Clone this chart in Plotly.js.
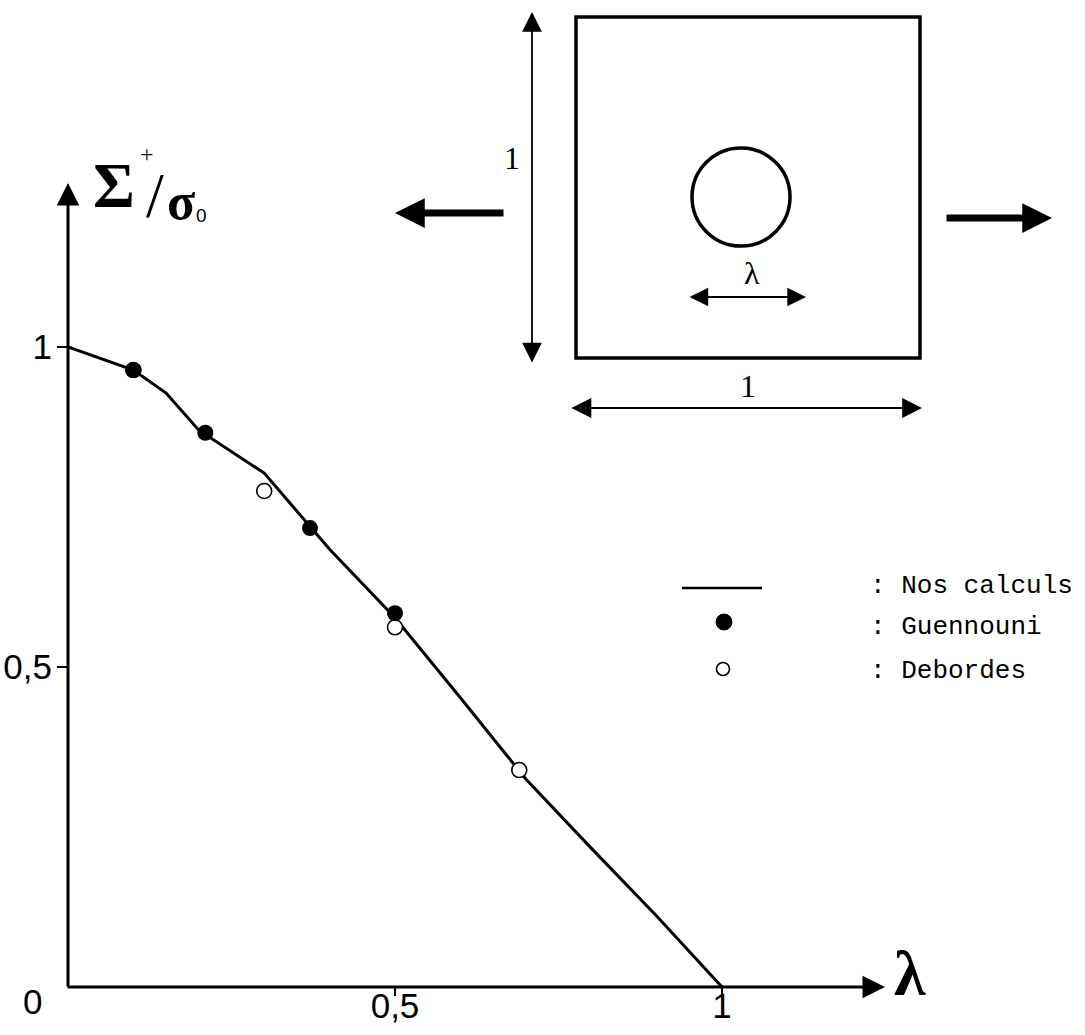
<!DOCTYPE html>
<html><head><meta charset="utf-8">
<script src="https://cdn.plot.ly/plotly-3.0.1.min.js"></script>
<style>html,body{margin:0;padding:0;background:#fff}#chart{width:1085px;height:1035px}</style>
</head><body><div id="chart"></div>
<script>
// ---- data ----
const lineLambda = [0, 0.1, 0.15, 0.2, 0.3, 0.4, 0.5, 0.6, 0.7, 0.8, 0.9, 1.0];
const lineSigma  = [1.0, 0.964, 0.928, 0.87, 0.803, 0.684, 0.577, 0.452, 0.325, 0.217, 0.111, 0.0];
const guennouniLambda = [0.1, 0.21, 0.37, 0.5];
const guennouniSigma  = [0.964, 0.866, 0.717, 0.584];
const debordesLambda = [0.1, 0.3, 0.5, 0.69];
const debordesSigma  = [0.964, 0.775, 0.562, 0.339];
const tickVals = [0.5, 1];
const tickText = ['0,5', '1'];
const seriesNames = ['Nos calculs', 'Guennouni', 'Debordes'];

// ---- layout geometry ----
const W = 1085, H = 1035, L = 68, B = 48, T = 183, R = 200;
const pw = W - L - R, ph = H - T - B;
const xMax = pw / 654, yMax = ph / 640;
const px = x => (x - L) / pw;
const py = y => (H - B - y) / ph;
const tickFont = {family: 'Liberation Sans, Arial', size: 35, color: '#000'};
const serif = 'Liberation Serif, DejaVu Serif, Times New Roman, serif';
const mono = 'Liberation Mono, Courier New, monospace';

const traces = [
  {x: lineLambda, y: lineSigma, mode: 'lines', name: seriesNames[0],
   line: {color: '#000', width: 3}, showlegend: false, hoverinfo: 'skip'},
  {x: debordesLambda, y: debordesSigma, mode: 'markers', name: seriesNames[2], cliponaxis: false,
   marker: {symbol: 'circle', size: 15, color: '#fff', line: {color: '#000', width: 1.6}}, showlegend: false},
  {x: guennouniLambda, y: guennouniSigma, mode: 'markers', name: seriesNames[1], cliponaxis: false,
   marker: {symbol: 'circle', size: 16, color: '#000', line: {color: '#000', width: 0}}, showlegend: false}
];

function arrow(xTip, yTip, dx, dy, opts) {
  return Object.assign({xref: 'paper', yref: 'paper', x: px(xTip), y: py(yTip), ax: dx, ay: dy,
    text: '', showarrow: true, arrowhead: 2, arrowsize: 1.6, arrowwidth: 2.5, arrowcolor: '#000',
    standoff: 0, startstandoff: 0}, opts || {});
}
function label(text, xc, yc, font, anchorX) {
  return {xref: 'paper', yref: 'paper', x: px(xc), y: py(yc), text: text, showarrow: false,
    xanchor: anchorX || 'center', yanchor: 'middle', font: font};
}

const annotations = [
  // main axes as arrows
  arrow(L + pw, H - B, -pw - 2, 0, {arrowsize: 1.5, arrowwidth: 3}),
  arrow(L, T, 0, ph + 1, {arrowsize: 1.5, arrowwidth: 3}),
  label('<b>λ</b>', 910, 973, {family: serif, size: 64, color: '#000'}),
  label('0', 32, 1002, tickFont),
  // y-axis title Σ+/σ0
  label('<b>Σ</b>', 114, 185, {family: serif, size: 64, color: '#000'}),
  label('+', 147, 154, {family: serif, size: 24, color: '#000'}),
  label('/', 155, 196, {family: serif, size: 64, color: '#000'}),
  label('<b>σ</b>', 181, 202, {family: serif, size: 52, color: '#000'}),
  label('0', 201, 215, {family: 'Liberation Sans, Arial', size: 19, color: '#000'}),
  // inset
  arrow(532, 12, 0, 352, {arrowside: 'end+start', startarrowhead: 2, arrowwidth: 1.8, arrowsize: 2.2, startarrowsize: 2.2}),
  label('1', 512, 158, {family: serif, size: 32, color: '#000'}),
  arrow(922, 408, -352, 0, {arrowside: 'end+start', startarrowhead: 2, arrowwidth: 1.8, arrowsize: 2.2, startarrowsize: 2.2}),
  label('1', 748, 386, {family: serif, size: 32, color: '#000'}),
  arrow(806, 297, -118, 0, {arrowside: 'end+start', startarrowhead: 2, arrowwidth: 2.2, arrowsize: 1.7, startarrowsize: 1.7}),
  label('λ', 752, 273, {family: serif, size: 32, color: '#000'}),
  arrow(395, 213, 110, 0, {arrowwidth: 7, arrowsize: 0.85}),
  arrow(1052, 218, -107, 0, {arrowwidth: 7, arrowsize: 0.85}),
  // legend texts
  label(': ' + seriesNames[0], 868, 586, {family: mono, size: 26, color: '#000'}, 'left'),
  label(': ' + seriesNames[1], 868, 627, {family: mono, size: 26, color: '#000'}, 'left'),
  label(': ' + seriesNames[2], 868, 671, {family: mono, size: 26, color: '#000'}, 'left')
];

const shapes = [
  {type: 'rect', xref: 'paper', yref: 'paper', x0: px(576), x1: px(920), y0: py(358), y1: py(17),
   line: {color: '#000', width: 3.5}},
  {type: 'circle', xref: 'paper', yref: 'paper', xsizemode: 'pixel', ysizemode: 'pixel',
   xanchor: px(741), yanchor: py(197), x0: -49, x1: 49, y0: -49, y1: 49, line: {color: '#000', width: 3.5}},
  // legend symbols
  {type: 'line', xref: 'paper', yref: 'paper', x0: px(682), x1: px(762), y0: py(588), y1: py(588),
   line: {color: '#000', width: 2.5}},
  {type: 'circle', xref: 'paper', yref: 'paper', xsizemode: 'pixel', ysizemode: 'pixel',
   xanchor: px(724), yanchor: py(622), x0: -8, x1: 8, y0: -8, y1: 8, fillcolor: '#000', line: {color: '#000', width: 1}},
  {type: 'circle', xref: 'paper', yref: 'paper', xsizemode: 'pixel', ysizemode: 'pixel',
   xanchor: px(723), yanchor: py(669), x0: -6.5, x1: 6.5, y0: -6.5, y1: 6.5, line: {color: '#000', width: 1.6}}
];

const axisCommon = {showgrid: false, zeroline: false, showline: false, ticks: 'outside', ticklen: 8,
  tickwidth: 2, tickcolor: '#000', tickfont: tickFont, tickvals: tickVals, ticktext: tickText, fixedrange: true};

const layout = {
  width: W, height: H, margin: {l: L, r: R, t: T, b: B, pad: 0},
  paper_bgcolor: '#fff', plot_bgcolor: '#fff', showlegend: false,
  xaxis: Object.assign({range: [0, xMax]}, axisCommon, {ticklabelstandoff: -20}),
  yaxis: Object.assign({range: [0, yMax]}, axisCommon, {ticklen: 10, ticklabelstandoff: -2}),
  annotations: annotations, shapes: shapes
};

Plotly.newPlot('chart', traces, layout, {displayModeBar: false, staticPlot: true});
</script>
</body></html>
